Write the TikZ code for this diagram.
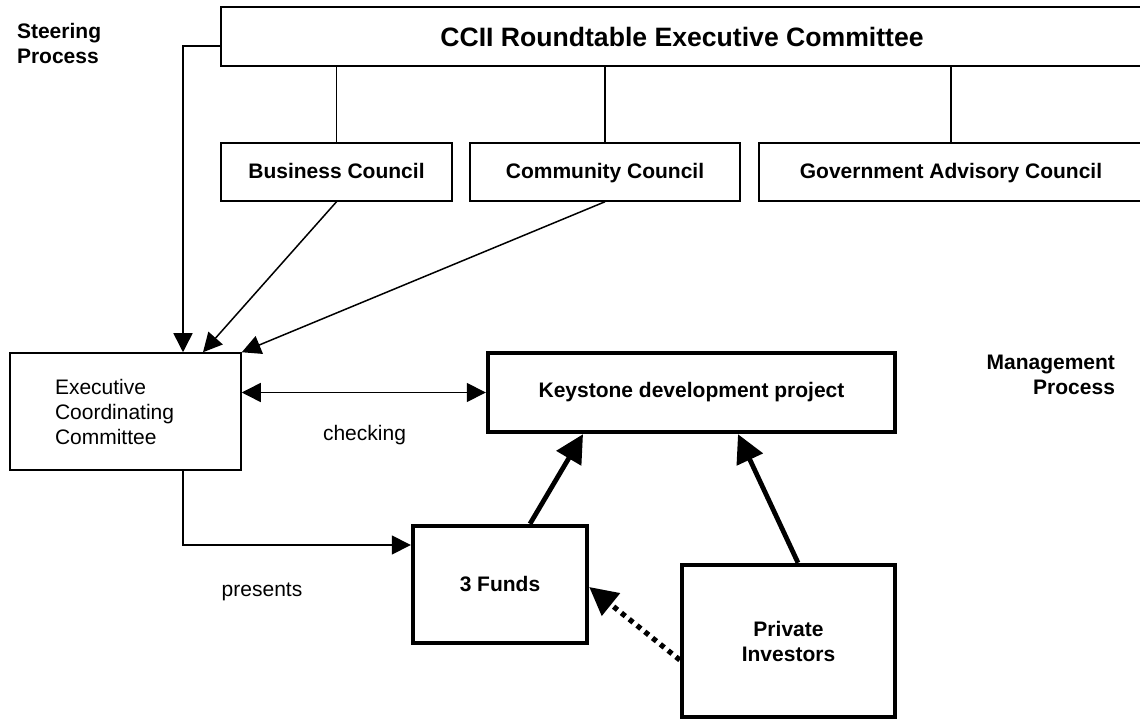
\documentclass[tikz,border=0pt]{standalone}
\usepackage{fontspec}
\setmainfont{Liberation Sans}
\usepackage{tikz}
\usetikzlibrary{arrows.meta}

\newcommand{\chartfont}{\fontsize{10.5}{12.5}\selectfont}

\begin{document}
\begin{tikzpicture}[x=0.5pt, y=-0.5pt, font=\chartfont,
  box/.style={draw, line width=0.75pt, inner sep=0pt, align=center, font=\chartfont\bfseries},
  council/.style={box, minimum height=29pt, text height=1.6ex, text depth=0.45ex},
  heavybox/.style={box, line width=2.2pt},
  link/.style={line width=0.75pt, >={Triangle[length=9.5pt,width=9.5pt]}, ->},
  heavylink/.style={line width=2.4pt, >={Triangle[length=14pt,width=14pt]}, ->},
  dotlink/.style={heavylink, line width=2.6pt, dash pattern=on 2.5pt off 2.5pt}]
 \useasboundingbox (0,0) rectangle (1140,721);

 \node [anchor=west, align=left, font=\chartfont\bfseries] (steer) at (10,43) {Steering\\Process};
 \node [anchor=east, align=right, font=\chartfont\bfseries] (manage) at (1122,375) {Management\\Process};

 \node [box, minimum width=461pt, minimum height=29.5pt, font=\fontsize{13.3}{16}\selectfont\bfseries] (top) at (682,36.5) {CCII Roundtable Executive Committee};
 \node [council, minimum width=115.5pt] (business) at (336.5,172) {Business Council};
 \node [council, minimum width=135pt] (community) at (605,172) {Community Council};
 \node [council, minimum width=192pt] (government) at (951,172) {Government Advisory Council};

 \node [draw, line width=0.75pt, align=left, text width=70.5pt, inner xsep=22.5pt, minimum height=58.5pt] (ecc) at (125.5,411.5) {Executive\\Coordinating\\Committee};
 \node [heavybox, minimum width=203.5pt, minimum height=39.5pt] (keystone) at (691.5,392.5) {Keystone development project};
 \node [heavybox, minimum width=87pt, minimum height=58.5pt] (funds) at (500,584.5) {3 Funds};
 \node [heavybox, minimum width=106.5pt, minimum height=76pt] (investors) at (788.5,641) {Private\\Investors};

 \node (checking) at (364.5,435) {checking};
 \node (presents) at (262,592) {presents};

 \draw [line width=0.75pt] (top.south -| business.north) -- (business.north);
 \draw [line width=0.75pt] (top.south -| community.north) -- (community.north);
 \draw [line width=0.75pt] (top.south -| government.north) -- (government.north);

 \draw [link] ([yshift=-4.75pt]top.west) -| ([xshift=28.75pt]ecc.north);
 \draw [link] (business.south) -- ([xshift=38.75pt]ecc.north);
 \draw [link] (community.south) -- (ecc.north east);
 \draw [link, <->] (ecc.east |- keystone.west) -- (keystone.west);
 \draw [link] ([xshift=28.75pt]ecc.south) |- ([yshift=19.75pt]funds.west);

 \draw [heavylink] ([xshift=15pt]funds.north) -- ([xshift=-54.25pt]keystone.south);
 \draw [heavylink] ([xshift=4.75pt]investors.north) -- ([xshift=23.25pt]keystone.south);
 \draw [dotlink] ([yshift=-9.5pt]investors.west) -- ([yshift=-1.25pt]funds.east);
\end{tikzpicture}
\end{document}
